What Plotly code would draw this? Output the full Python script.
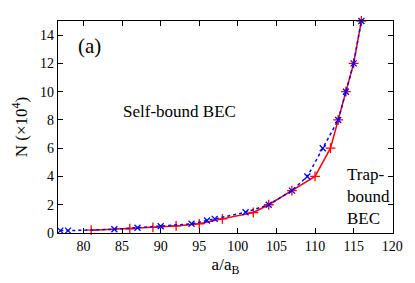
import plotly.graph_objects as go

# red series (+ markers, solid line)
red_x = [81, 86, 89, 92, 95, 98, 102, 104, 107, 110, 112, 113, 114, 115, 116]
red_y = [0.2, 0.3, 0.4, 0.5, 0.65, 1.0, 1.45, 2.0, 3.0, 4.0, 6.0, 8.0, 10.0, 12.0, 15.0]

# blue series (x markers, dotted line)
blue_x = [77, 78, 84, 87, 90, 94, 96, 97, 101, 104, 107, 109, 111, 113, 114, 115, 116]
blue_y = [0.17, 0.17, 0.26, 0.37, 0.48, 0.65, 0.88, 1.0, 1.47, 2.0, 3.0, 4.0, 6.0, 8.0, 10.0, 12.0, 15.0]

x_ticks = [80, 85, 90, 95, 100, 105, 110, 115, 120]
y_ticks = [0, 2, 4, 6, 8, 10, 12, 14]

serif = "Liberation Serif"

fig = go.Figure()
fig.add_trace(go.Scatter(
    x=red_x, y=red_y, mode="lines+markers",
    line=dict(color="#ff0000", width=1.5),
    marker=dict(symbol="cross-thin", size=7, line=dict(color="#ff0000", width=1.3)),
    showlegend=False, cliponaxis=False))
fig.add_trace(go.Scatter(
    x=blue_x, y=blue_y, mode="lines+markers",
    line=dict(color="#0000ff", width=1.5, dash="dot"),
    marker=dict(symbol="x-thin", size=6, line=dict(color="#0000ff", width=1.3)),
    showlegend=False, cliponaxis=False))

axis_common = dict(
    showline=True, linecolor="black", linewidth=1.2, mirror="ticks",
    ticks="inside", ticklen=5, tickcolor="black", tickwidth=1,
    showgrid=False, zeroline=False,
    tickfont=dict(family=serif, size=14, color="black"),
)

fig.update_xaxes(range=[76.7, 120.1], tickvals=x_ticks, ticktext=[str(v) for v in x_ticks],
                 title=dict(text="a/a<sub>B</sub>", font=dict(family=serif, size=17, color="black"), standoff=5),
                 **axis_common)
fig.update_yaxes(range=[0, 15], tickvals=y_ticks, ticktext=[str(v) for v in y_ticks],
                 title=dict(text="N (×10<sup>4</sup>)", font=dict(family=serif, size=17, color="black"), standoff=8),
                 **axis_common)

fig.add_annotation(x=80.8, y=13.2, text="(a)", showarrow=False, xanchor="center", yanchor="middle",
                   font=dict(family=serif, size=21, color="black"))
fig.add_annotation(x=92.4, y=8.6, text="Self-bound BEC", showarrow=False, xanchor="center", yanchor="middle",
                   font=dict(family=serif, size=17, color="black"))
fig.add_annotation(x=113.9, y=2.6, text="Trap-<br>bound<br>BEC", showarrow=False, xanchor="left", yanchor="middle",
                   align="left", font=dict(family=serif, size=17, color="black"))

# page body adds an 8px margin, so the figure is sized to fit the 415x283 window
fig.update_layout(
    width=407, height=275,
    margin=dict(l=42, r=13, t=12, b=47),
    plot_bgcolor="white", paper_bgcolor="white",
    font=dict(family=serif, color="black"),
)

fig.write_html("out.html")
